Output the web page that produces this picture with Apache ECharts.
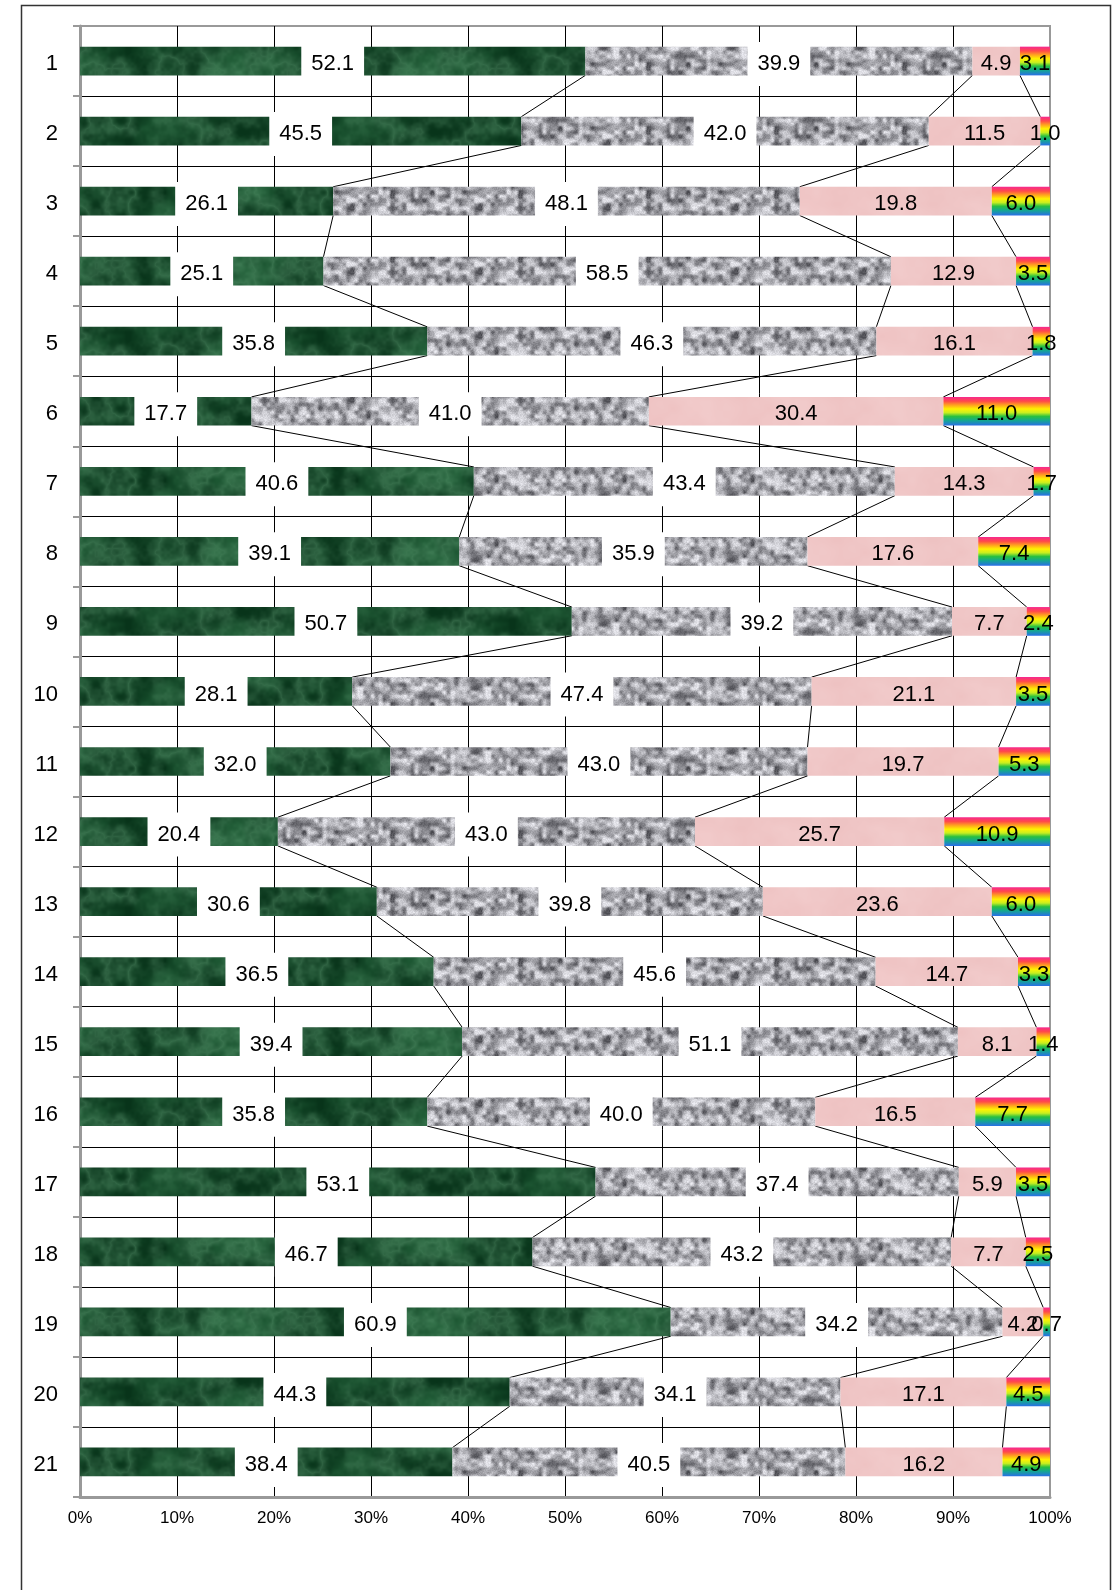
<!DOCTYPE html>
<html>
<head>
<meta charset="utf-8">
<script src="https://cdn.jsdelivr.net/npm/echarts@6/dist/echarts.min.js"></script>
<style>
html,body{margin:0;padding:0;background:#fff;}
#chart{width:1116px;height:1590px;}
</style>
</head>
<body>
<div id="chart"></div>
<script>
// ---- data ----
const categories = ['1','2','3','4','5','6','7','8','9','10','11','12','13','14','15','16','17','18','19','20','21'];
const series1 = [52.1,45.5,26.1,25.1,35.8,17.7,40.6,39.1,50.7,28.1,32.0,20.4,30.6,36.5,39.4,35.8,53.1,46.7,60.9,44.3,38.4];
const series2 = [39.9,42.0,48.1,58.5,46.3,41.0,43.4,35.9,39.2,47.4,43.0,43.0,39.8,45.6,51.1,40.0,37.4,43.2,34.2,34.1,40.5];
const series3 = [4.9,11.5,19.8,12.9,16.1,30.4,14.3,17.6,7.7,21.1,19.7,25.7,23.6,14.7,8.1,16.5,5.9,7.7,4.2,17.1,16.2];
const series4 = [3.1,1.0,6.0,3.5,1.8,11.0,1.7,7.4,2.4,3.5,5.3,10.9,6.0,3.3,1.4,7.7,3.5,2.5,0.7,4.5,4.9];
const xTicks = [0,10,20,30,40,50,60,70,80,90,100];

const raw = [series1, series2, series3, series4];
// 100% stacked shares
const totals = categories.map((c,i)=>raw.reduce((s,a)=>s+a[i],0));
const shares = raw.map(a=>a.map((v,i)=>v/totals[i]*100));
// cumulative boundaries for the series lines
const cum = [];
let acc = categories.map(()=>0);
for (let k=0;k<3;k++){ acc = acc.map((v,i)=>v+shares[k][i]); cum.push(acc.slice()); }
const lineData = [];
for (let k=0;k<3;k++) for (let i=0;i<categories.length-1;i++) lineData.push([cum[k][i], i, cum[k][i+1], i+1]);

// ---- textures (styling only) ----
function hash(ix,iy,seed){
  let n = (Math.imul(ix,374761393) + Math.imul(iy,668265263) + Math.imul(seed,1442695041))|0;
  n = Math.imul(n ^ (n>>>13), 1274126177);
  n = n ^ (n>>>16);
  return (n>>>0)/4294967295;
}
function vnoise(x,y,px,py,seed){
  const xi=Math.floor(x), yi=Math.floor(y);
  const xf=x-xi, yf=y-yi;
  const u=xf*xf*(3-2*xf), v=yf*yf*(3-2*yf);
  const m=(a,p)=>((a%p)+p)%p;
  const a=hash(m(xi,px),m(yi,py),seed), b=hash(m(xi+1,px),m(yi,py),seed);
  const c=hash(m(xi,px),m(yi+1,py),seed), d=hash(m(xi+1,px),m(yi+1,py),seed);
  return (a+(b-a)*u)*(1-v)+(c+(d-c)*u)*v;
}
function fbm(x,y,w,h,scale,oct,seed){
  let s=0,amp=1,tot=0,f=1/scale;
  for(let o=0;o<oct;o++){
    s+=amp*vnoise(x*f,y*f,Math.round(w*f),Math.round(h*f),seed+o);
    tot+=amp; amp*=0.5; f*=2;
  }
  return s/tot;
}
function makeTex(w,h,fn){
  const c=document.createElement('canvas'); c.width=w; c.height=h;
  const ctx=c.getContext('2d'); const img=ctx.createImageData(w,h);
  for(let y=0;y<h;y++) for(let x=0;x<w;x++){
    const col=fn(x,y,w,h); const p=(y*w+x)*4;
    img.data[p]=col[0]; img.data[p+1]=col[1]; img.data[p+2]=col[2]; img.data[p+3]=255;
  }
  ctx.putImageData(img,0,0); return c;
}
const mix=(a,b,t)=>[a[0]+(b[0]-a[0])*t,a[1]+(b[1]-a[1])*t,a[2]+(b[2]-a[2])*t];
const clamp=t=>Math.max(0,Math.min(1,t));
const greenTex = makeTex(192,96,(x,y,w,h)=>{
  const n=fbm(x,y,w,h,32,4,11);
  const v=fbm(x,y,w,h,24,4,37);
  const vein=Math.pow(Math.max(0,1-Math.abs(v-0.5)*3.2),1.6);
  let col=mix([8,52,26],[38,104,62],clamp((n-0.3)*1.7));
  col=mix(col,[100,160,120],vein*0.4);
  return col;
});
const grayTex = makeTex(128,64,(x,y,w,h)=>{
  const n=0.6*fbm(x,y,w,h,8,2,5)+0.4*fbm(x,y,w,h,4,1,17);
  const t=clamp((n-0.5)*1.9+0.58);
  const g=85+t*140+(hash(x,y,99)-0.5)*26;
  return [g,g,g+6];
});
const pinkTex = makeTex(96,48,(x,y,w,h)=>{
  const n=fbm(x,y,w,h,24,3,21);
  const d=(n-0.5)*14;
  return [240+d*0.4,199+d,199+d];
});
const rainbow = new echarts.graphic.LinearGradient(0,0,0,1,[
  {offset:0,color:'#f7288f'},
  {offset:0.15,color:'#ff4a4a'},
  {offset:0.28,color:'#ffa020'},
  {offset:0.42,color:'#fff200'},
  {offset:0.55,color:'#c8ee20'},
  {offset:0.68,color:'#28c040'},
  {offset:0.82,color:'#14a890'},
  {offset:1,color:'#2a6ee8'}
]);

const FONT = "'Liberation Sans', Arial, sans-serif";
const NARROW = "'Liberation Sans Narrow', 'Arial Narrow', 'Liberation Sans', sans-serif";

function labelCfg(k, boxed){
  const cfg = {
    show:true, position:'inside', color:'#000', fontSize:22, lineHeight:22,
    fontFamily:FONT, offset:[0,3],
    formatter:p=>raw[k][p.dataIndex].toFixed(1)
  };
  if (boxed){ cfg.backgroundColor='#fff'; cfg.padding=[11,10]; }
  return cfg;
}
const fills=[{image:greenTex,repeat:'repeat'},{image:grayTex,repeat:'repeat'},{image:pinkTex,repeat:'repeat'},rainbow];

const chart = echarts.init(document.getElementById('chart'), null, {renderer:'canvas'});
chart.setOption({
  animation:false,
  backgroundColor:'#fff',
  graphic:[{type:'rect',left:19,top:3,shape:{width:1089,height:1640},style:{fill:'none',stroke:'#333',lineWidth:1.5},z:-10}],
  grid:{left:80,top:26,width:970,height:1471,show:true,borderColor:'#999',borderWidth:2,backgroundColor:'transparent'},
  xAxis:{
    type:'value',min:xTicks[0],max:xTicks[xTicks.length-1],interval:10,
    axisLine:{show:true,lineStyle:{color:'#999',width:3}},
    axisTick:{show:false},
    axisLabel:{formatter:'{value}%',fontSize:17,color:'#000',fontFamily:NARROW,margin:13},
    splitLine:{show:true,showMinLine:false,showMaxLine:false,lineStyle:{color:'#000',width:1}}
  },
  yAxis:{
    type:'category',data:categories,inverse:true,
    axisLine:{show:true,lineStyle:{color:'#999',width:3}},
    axisTick:{show:true,length:7,lineStyle:{color:'#999',width:2}},
    axisLabel:{fontSize:22,color:'#000',fontFamily:FONT,margin:22,verticalAlign:'top',lineHeight:6},
    splitLine:{show:true,showMinLine:false,showMaxLine:false,lineStyle:{color:'#000',width:1}}
  },
  series:[
    ...[0,1,2,3].map(k=>({
      type:'bar',stack:'total',barWidth:'41%',data:shares[k],
      itemStyle:{color:fills[k]},
      label:labelCfg(k,k<2),
      z:3
    })),
    {
      type:'custom',data:lineData,z:2,silent:true,
      encode:{x:[0,2],y:[1,3]},
      renderItem:(params,api)=>{
        const p1=api.coord([api.value(0),api.value(1)]);
        const p2=api.coord([api.value(2),api.value(3)]);
        const half=api.size([0,1])[1]*0.41/2;
        return {type:'line',shape:{x1:p1[0],y1:p1[1]+half,x2:p2[0],y2:p2[1]-half},style:{stroke:'#000',lineWidth:1}};
      }
    }
  ]
});
</script>
</body>
</html>
